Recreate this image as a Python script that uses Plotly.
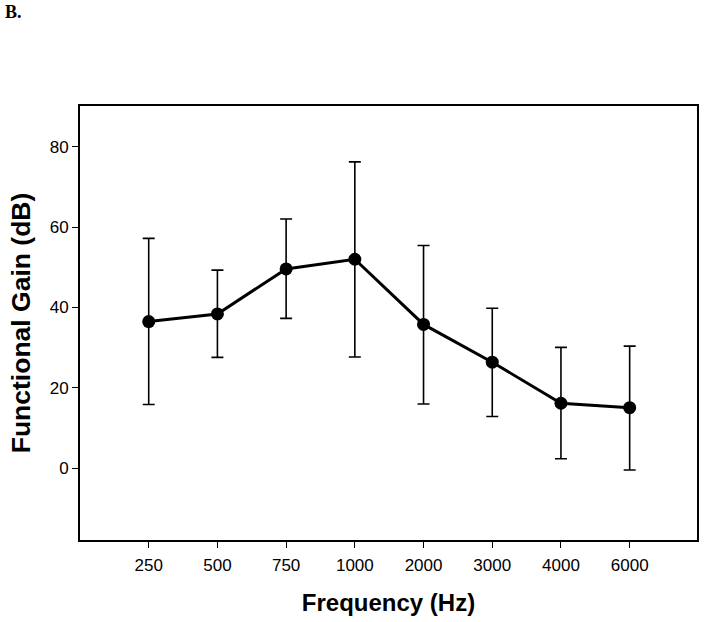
import plotly.graph_objects as go

frequencies = ["250", "500", "750", "1000", "2000", "3000", "4000", "6000"]
gain_mean = [36.5, 38.4, 49.6, 52.0, 35.8, 26.4, 16.2, 15.1]
gain_upper = [57.2, 49.3, 62.0, 76.2, 55.4, 39.8, 30.1, 30.4]
gain_lower = [15.9, 27.6, 37.3, 27.7, 16.0, 12.9, 2.4, -0.4]

err_plus = [u - m for u, m in zip(gain_upper, gain_mean)]
err_minus = [m - l for m, l in zip(gain_mean, gain_lower)]

fig = go.Figure()
fig.add_trace(go.Scatter(
    x=frequencies, y=gain_mean,
    mode="lines+markers",
    line=dict(color="black", width=3),
    marker=dict(color="black", size=13),
    error_y=dict(type="data", symmetric=False, array=err_plus, arrayminus=err_minus,
                 color="black", thickness=1.6, width=6),
    showlegend=False,
))

sans = "Liberation Sans, Arial, sans-serif"
axis_font = dict(family=sans, size=17, color="black")

fig.update_layout(
    width=704, height=622,
    margin=dict(l=80, r=7, t=106, b=82),
    paper_bgcolor="white", plot_bgcolor="white",
    xaxis=dict(
        type="category", range=[-1, 7.98], automargin=False,
        showline=True, linecolor="black", linewidth=2, mirror=True,
        ticks="outside", ticklen=6, tickwidth=1.3, tickcolor="black",
        ticklabelstandoff=3,
        showgrid=False, zeroline=False, tickfont=axis_font,
        title=dict(text="<b>Frequency (Hz)</b>", font=dict(family=sans, size=24, color="black"),
                   standoff=20),
    ),
    yaxis=dict(
        range=[-17.8, 90.1], automargin=False,
        tickvals=[0, 20, 40, 60, 80],
        showline=True, linecolor="black", linewidth=2, mirror=True,
        ticks="outside", ticklen=6, tickwidth=1.3, tickcolor="black",
        showgrid=False, zeroline=False, tickfont=axis_font,
        title=dict(text="<b>Functional Gain (dB)</b>", font=dict(family=sans, size=26.5, color="black"),
                   standoff=11),
    ),
)
fig.update_layout(annotations=[dict(
    text="<b>B.</b>", xref="paper", yref="paper",
    x=-77/617, y=1 + 106/434, xanchor="left", yanchor="top", showarrow=False,
    font=dict(family="Liberation Serif, Times New Roman, serif", size=18, color="black"),
)])

fig.write_html("out.html", config={"displayModeBar": False},
               post_script="document.body.style.margin='0';")
